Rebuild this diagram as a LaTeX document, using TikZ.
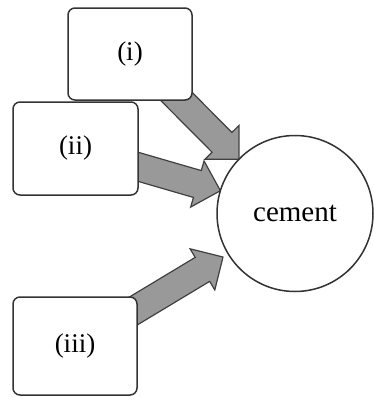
\documentclass[tikz,border=0pt]{standalone}
\usepackage{fontspec}
\setmainfont{Liberation Serif}
\usetikzlibrary{calc}
\tikzset{
  boxsty/.style={draw=black!80, line width=1.5pt, fill=white, rounded corners=7pt,
    inner sep=0pt, font=\fontsize{27}{30}\selectfont},
  circsty/.style={draw=black!80, line width=1.5pt, fill=white, circle,
    minimum size=156pt, inner sep=0pt, outer sep=0pt, font=\fontsize{29}{32}\selectfont},
  arrowsty/.style={draw=black!75, line width=1.2pt, fill=black!40, line join=miter}
}
\newcommand\blockarrow[2]{%
  \path ($(#2)!24pt!(#1)$) coordinate (baseA);
  \filldraw[arrowsty] ($(#1)!14pt!90:(#2)$) -- ($(baseA)!14pt!90:(#2)$)
    -- ($(baseA)!24pt!90:(#2)$) -- (#2) -- ($(baseA)!24pt!-90:(#2)$)
    -- ($(baseA)!14pt!-90:(#2)$) -- ($(#1)!14pt!-90:(#2)$) -- cycle;
}
\begin{document}
\begin{tikzpicture}[x=1pt, y=-1pt]
  \useasboundingbox (0,0) rectangle (374,397);
  % circle first only to get anchors (drawn later on top)
  \path (295,213.5) node[circle, minimum size=156pt, inner sep=0pt, outer sep=0pt] (cg) {};
  \coordinate (s1) at (170,90);
  \coordinate (s2) at (125,163);
  \coordinate (s3) at (125,316);
  \coordinate (t1) at (cg.136);
  \coordinate (t2) at (cg.163);
  \coordinate (t3) at (223,257);
  \blockarrow{s1}{t1}
  \blockarrow{s2}{t2}
  \blockarrow{s3}{t3}
  \node[boxsty, minimum width=124pt, minimum height=92pt] (bi) at (130,54) {(i)};
  \node[boxsty, minimum width=125pt, minimum height=93pt] (bii) at (75.5,148.5) {(ii)};
  \node[boxsty, minimum width=124pt, minimum height=98pt] (biii) at (75,346) {(iii)};
  \node[circsty] (c) at (295,213.5) {cement};
\end{tikzpicture}
\end{document}
